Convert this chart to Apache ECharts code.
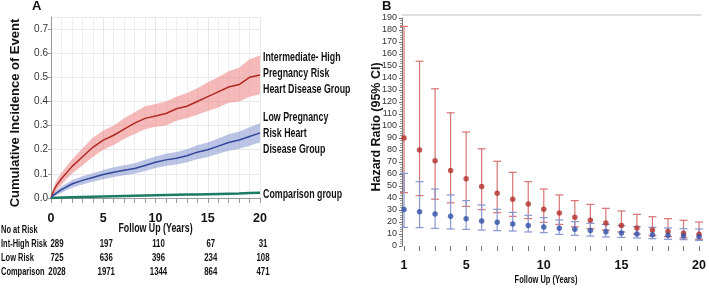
<!DOCTYPE html>
<html>
<head>
<meta charset="utf-8">
<script src="https://cdn.jsdelivr.net/npm/echarts@6/dist/echarts.min.js"></script>
<style>
html, body { margin: 0; padding: 0; background: #fff; }
#main { width: 709px; height: 288px; }
</style>
</head>
<body>
<div id="main"></div>
<script>
// panel A: cumulative incidence (years of follow up)
var years = [0, 0.25, 0.5, 1, 2, 3, 4, 5, 6, 7, 8, 9, 10, 11, 12, 13, 14, 15, 16, 17, 18, 19, 20];
var highMid = [0, 0.03, 0.05, 0.08, 0.13, 0.17, 0.21, 0.24, 0.26, 0.285, 0.31, 0.33, 0.34, 0.35, 0.37, 0.38, 0.40, 0.42, 0.44, 0.46, 0.47, 0.50, 0.51];
var highLo = [0, 0.015, 0.03, 0.055, 0.10, 0.135, 0.17, 0.20, 0.22, 0.245, 0.265, 0.285, 0.295, 0.30, 0.32, 0.33, 0.345, 0.36, 0.375, 0.395, 0.40, 0.42, 0.43];
var highHi = [0, 0.045, 0.07, 0.105, 0.16, 0.205, 0.25, 0.28, 0.30, 0.33, 0.355, 0.38, 0.39, 0.40, 0.42, 0.435, 0.455, 0.48, 0.50, 0.525, 0.54, 0.575, 0.59];
var lowMid = [0, 0.012, 0.02, 0.035, 0.058, 0.073, 0.085, 0.097, 0.107, 0.115, 0.122, 0.135, 0.148, 0.158, 0.165, 0.175, 0.19, 0.20, 0.215, 0.23, 0.24, 0.255, 0.27];
var lowLo = [0, 0.004, 0.01, 0.022, 0.042, 0.056, 0.067, 0.078, 0.087, 0.094, 0.10, 0.112, 0.124, 0.133, 0.139, 0.148, 0.161, 0.17, 0.183, 0.196, 0.204, 0.217, 0.23];
var lowHi = [0, 0.02, 0.03, 0.048, 0.074, 0.09, 0.103, 0.116, 0.127, 0.136, 0.144, 0.158, 0.172, 0.183, 0.191, 0.202, 0.219, 0.23, 0.247, 0.264, 0.276, 0.293, 0.31];
var compMid = [0, 0.0005, 0.001, 0.002, 0.003, 0.004, 0.005, 0.006, 0.007, 0.008, 0.009, 0.010, 0.011, 0.012, 0.013, 0.014, 0.015, 0.016, 0.017, 0.018, 0.019, 0.021, 0.022];

// number at risk table
var riskTimes = [0, 5, 10, 15, 20];
var riskRows = ["Int-High Risk", "Low Risk", "Comparison"];
var riskHigh = [289, 197, 110, 67, 31];
var riskLow = [725, 636, 396, 234, 108];
var riskComp = [2028, 1971, 1344, 864, 471];

// panel B: hazard ratios by year
var hrYears = [1, 2, 3, 4, 5, 6, 7, 8, 9, 10, 11, 12, 13, 14, 15, 16, 17, 18, 19, 20];
var hrHigh = [90, 80, 71, 63, 56, 49.5, 44, 39, 35, 30.7, 27.5, 24, 21.4, 19.2, 17, 15, 13.3, 12, 10.6, 9.7];
var hrHighLo = [44.5, 42, 39, 36, 33, 30.3, 27.8, 24.7, 22.8, 19.7, 18, 16, 14.4, 13.3, 11.7, 10, 8.6, 7.8, 6.7, 5.6];
var hrHighHi = [183, 154, 131, 111, 95, 81, 70.6, 61.4, 53.6, 47.5, 42.5, 37.8, 34.7, 31.4, 29.2, 26.4, 24.4, 22.8, 21.4, 20];
var hrLow = [30.5, 28.5, 26.7, 24.7, 22.8, 20.8, 19.7, 18.3, 17, 15.8, 14.7, 13.9, 13, 11.9, 10.8, 10, 9.4, 8.9, 8.3, 7.8];
var hrLowLo = [15.5, 15.3, 14.7, 14.2, 13.9, 13.3, 12.8, 12.5, 11.7, 11.1, 9.7, 8.9, 8.3, 7.5, 7.2, 6.7, 6.1, 5.6, 5.3, 4.7];
var hrLowHi = [60.5, 53.6, 47.5, 42.5, 37.8, 34.2, 30.6, 28, 25.6, 23.6, 21.7, 20.3, 18.9, 18, 17, 16.1, 15.6, 15, 14.4, 14.2];

var font = "'Liberation Sans', Arial, sans-serif";
var squeeze = 0.68; // 沒有窄字體, 用 scaleX 壓窄

function pairs(xs, ys) {
	return xs.map(function (x, i) { return [x, ys[i]]; });
}

// 誤差線
function errBar(color) {
	return function (params, api) {
		var x = api.value(0);
		var lo = api.coord([x, api.value(1)]);
		var hi = api.coord([x, api.value(2)]);
		var w = 4;
		var st = { stroke: color, lineWidth: 1.2 };
		return {
			type: "group",
			children: [
				{ type: "line", shape: { x1: lo[0], y1: lo[1], x2: hi[0], y2: hi[1] }, style: st },
				{ type: "line", shape: { x1: lo[0] - w, y1: lo[1], x2: lo[0] + w, y2: lo[1] }, style: st },
				{ type: "line", shape: { x1: hi[0] - w, y1: hi[1], x2: hi[0] + w, y2: hi[1] }, style: st }
			]
		};
	};
}

// 信賴區間帶 (一個多邊形)
function band(lo, hi, color) {
	return {
		type: "custom", xAxisIndex: 0, yAxisIndex: 0, silent: true,
		encode: { x: 0, y: [1, 2] },
		data: years.map(function (x, i) { return [x, lo[i], hi[i]]; }),
		renderItem: function (params, api) {
			if (params.dataIndex !== 0) return;
			var top = [], bot = [];
			for (var i = 0; i < years.length; i++) {
				top.push(api.coord([api.value(0, i), api.value(2, i)]));
				bot.unshift(api.coord([api.value(0, i), api.value(1, i)]));
			}
			return { type: "polygon", shape: { points: top.concat(bot) }, style: { fill: color } };
		}
	};
}

var myChart = echarts.init(document.getElementById("main"), null, { renderer: "canvas" });

var series = [
	band(highLo, highHi, "rgba(236,128,128,0.55)"),
	band(lowLo, lowHi, "rgba(120,138,204,0.5)"),
	{ type: "line", xAxisIndex: 0, yAxisIndex: 0, data: pairs(years, highMid), symbol: "none", lineStyle: { color: "#b02a24", width: 1.5 } },
	{ type: "line", xAxisIndex: 0, yAxisIndex: 0, data: pairs(years, lowMid), symbol: "none", lineStyle: { color: "#33479a", width: 1.5 } },
	{ type: "line", xAxisIndex: 0, yAxisIndex: 0, data: pairs(years, compMid), symbol: "none", lineStyle: { color: "#1c7b63", width: 2.5 } },
	{
		type: "custom", xAxisIndex: 1, yAxisIndex: 1, renderItem: errBar("#d77474"),
		encode: { x: 0, y: [1, 2] },
		data: hrYears.map(function (x, i) { return [x, hrHighLo[i], hrHighHi[i]]; })
	},
	{
		type: "custom", xAxisIndex: 1, yAxisIndex: 1, renderItem: errBar("#8797d0"),
		encode: { x: 0, y: [1, 2] },
		data: hrYears.map(function (x, i) { return [x, hrLowLo[i], hrLowHi[i]]; })
	},
	{ type: "scatter", xAxisIndex: 1, yAxisIndex: 1, data: pairs(hrYears, hrHigh), symbolSize: 5.5, itemStyle: { color: "#b3302b" } },
	{ type: "scatter", xAxisIndex: 1, yAxisIndex: 1, data: pairs(hrYears, hrLow), symbolSize: 5.5, itemStyle: { color: "#3350a8" } }
];

var option = {
	animation: false,
	grid: [
		{ left: 51, top: 17, width: 209, height: 181 },
		{ left: 402, top: 18, width: 301, height: 228 }
	],
	xAxis: [
		{
			gridIndex: 0, type: "value", min: 0, max: 20, interval: 5, offset: 2,
			axisLine: { lineStyle: { color: "#9a9a9a" } },
			axisTick: { length: 5, lineStyle: { color: "#9a9a9a" } },
			minorTick: { show: true, splitNumber: 5, length: 5, lineStyle: { color: "#9a9a9a" } },
			splitLine: { show: true, lineStyle: { color: "#e8e8e8" } },
			minorSplitLine: { show: true, lineStyle: { color: "#efefef" } },
			axisLabel: { fontFamily: font, fontWeight: "bold", fontSize: 12.5, color: "#111", margin: 12 }
		},
		{
			gridIndex: 1, type: "value", min: 0.87, max: 20.13, offset: 5,
			axisLine: { show: false },
			axisTick: { show: true, customValues: hrYears, length: 5, lineStyle: { color: "#777" } },
			axisLabel: { customValues: [1, 5, 10, 15, 20], fontFamily: font, fontWeight: "bold", fontSize: 12.5, color: "#111", margin: 8 },
			splitLine: { show: false }
		},
		{
			// 上方框線
			gridIndex: 1, type: "value", position: "top", min: 0.87, max: 20.13, offset: 3,
			axisLine: { show: true, lineStyle: { color: "#d6d6d6", width: 1.5 } },
			axisTick: { show: false }, axisLabel: { show: false }, splitLine: { show: false }
		}
	],
	yAxis: [
		{
			gridIndex: 0, type: "value", min: 0, max: 0.75, interval: 0.1,
			axisLine: { show: true, lineStyle: { color: "#9a9a9a" } },
			axisTick: { show: true, length: 3, lineStyle: { color: "#9a9a9a" } },
			splitLine: { show: true, lineStyle: { color: "#e8e8e8" } },
			axisLabel: {
				fontFamily: font, fontSize: 10, color: "#333", margin: 3, showMaxLabel: false,
				formatter: function (v) { return v.toFixed(1); }
			}
		},
		{
			gridIndex: 1, type: "value", min: 0, max: 190, interval: 10,
			axisLine: { show: true, lineStyle: { color: "#777" } },
			axisTick: { show: true, length: 3, lineStyle: { color: "#777" } },
			minorTick: { show: true, splitNumber: 5, length: 2, lineStyle: { color: "#999" } },
			splitLine: { show: false },
			axisLabel: { fontFamily: font, fontSize: 9, color: "#333", margin: 5 }
		}
	],
	series: series
};
myChart.setOption(option);

// 文字標註 (壓窄的粗體)
function label(text, x, y, size, align) {
	return {
		type: "text", x: x, y: y, scaleX: squeeze,
		style: { text: text, fontFamily: font, fontWeight: "bold", fontSize: size, fill: "#111", textAlign: align || "left", textVerticalAlign: "middle" }
	};
}
// 直式軸標題
function vTitle(text, x, y, size) {
	return {
		type: "text", x: x, y: y, rotation: Math.PI / 2,
		style: { text: text, fontFamily: font, fontWeight: "bold", fontSize: size, fill: "#111", textAlign: "center", textVerticalAlign: "middle" }
	};
}
var sideLabels = [
	["Intermediate- High", 57], ["Pregnancy Risk", 73], ["Heart Disease Group", 89],
	["Low Pregnancy", 117], ["Risk Heart", 133], ["Disease Group", 149],
	["Comparison group", 194]
];
var graphic = [
	{ type: "text", left: 32, top: 0, style: { text: "A", fontFamily: font, fontWeight: "bold", fontSize: 13, fill: "#111" } },
	{ type: "text", left: 382, top: 0, style: { text: "B", fontFamily: font, fontWeight: "bold", fontSize: 13, fill: "#111" } },
	vTitle("Cumulative Incidence of Event", 15, 113, 13),
	vTitle("Hazard Ratio (95% CI)", 377, 127, 12.5),
	label("Follow Up (Years)", myChart.convertToPixel({ xAxisIndex: 0 }, 10), 228, 13, "center"),
	label("Follow Up (Years)", 546, 280, 11, "center")
];
sideLabels.forEach(function (l) {
	graphic.push(label(l[0], 263, l[1], 13));
});

var rowY = [230, 244, 258, 272];
var rowVals = [riskHigh, riskLow, riskComp];
graphic.push(label("No at Risk", 1, rowY[0], 11));
riskRows.forEach(function (name, r) {
	graphic.push(label(name, 1, rowY[r + 1], 11));
	riskTimes.forEach(function (t, i) {
		var px = myChart.convertToPixel({ xAxisIndex: 0 }, t);
		graphic.push(label(String(rowVals[r][i]), px + (i === 0 ? 6 : 3), rowY[r + 1], 11.5, "center"));
	});
});
myChart.setOption({ graphic: graphic });
window.addEventListener("resize", myChart.resize);
</script>
</body>
</html>
